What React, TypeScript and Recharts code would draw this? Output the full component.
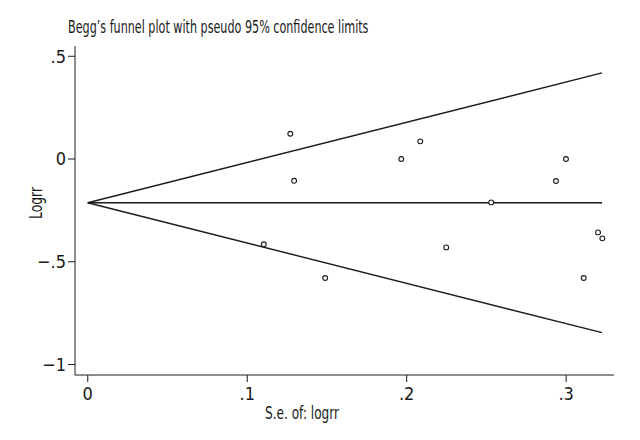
import React from "react";
import {
  ComposedChart,
  XAxis,
  YAxis,
  Line,
  Scatter,
} from "recharts";

// standard errors and log risk ratios
const seValues = [0.127, 0.2085, 0.1966, 0.1294, 0.1104, 0.1489, 0.2999, 0.2936, 0.253, 0.32, 0.3227, 0.2248, 0.311];
const logrrValues = [0.123, 0.086, 0.0, -0.106, -0.415, -0.579, 0.0, -0.107, -0.211, -0.357, -0.386, -0.43, -0.579];

// funnel lines: start (se = 0) and end (max se)
const lineSe = [0, 0.3225];
const upperLimit = [-0.213, 0.419];
const centerLine = [-0.213, -0.213];
const lowerLimit = [-0.213, -0.845];

const xTicks = [0, 0.1, 0.2, 0.3];
const yTicks = [-1, -0.5, 0, 0.5];

const points = seValues.map((se, i) => ({ se, logrr: logrrValues[i] }));
const mkLine = (vals: number[]) => lineSe.map((se, i) => ({ se, logrr: vals[i] }));

const FONT = "'Liberation Sans Narrow', 'DejaVu Sans Condensed', 'Roboto', sans-serif";
const INK = "#1a1a1a";

const fmt = (v: number) => {
  if (v === 0) return "0";
  const s = Math.abs(v).toString().replace(/^0/, "");
  return v < 0 ? "\u2212" + s : s;
};

const Ring = (props: any) => {
  const { cx, cy } = props;
  return <circle cx={cx} cy={cy} r={2.4} fill="#fff" stroke={INK} strokeWidth={1.1} />;
};

const App = () => {
  return (
    <div style={{ position: "absolute", left: 0, top: 0, width: 640, height: 440, background: "#fff" }}>
      <div
        style={{
          position: "absolute",
          left: 68,
          top: 16,
          fontFamily: FONT,
          fontSize: 18,
          color: INK,
          whiteSpace: "nowrap",
          transform: "scaleX(0.69)",
          transformOrigin: "left top",
        }}
      >
        Begg’s funnel plot with pseudo 95% confidence limits
      </div>
      <ComposedChart
        width={640}
        height={440}
        margin={{ top: 46, right: 26, bottom: 25, left: 25 }}
      >
        <XAxis
          dataKey="se"
          type="number"
          domain={[-0.008, 0.33]}
          ticks={xTicks}
          allowDataOverflow
          tickFormatter={fmt}
          height={40}
          tickSize={7}
          tickMargin={5}
          stroke={INK}
          tick={{ fill: INK, fontFamily: FONT, fontSize: 18 }}
          label={{
            content: () => (
              <text
                x={265}
                y={419}
                textLength={74}
                lengthAdjust="spacingAndGlyphs"
                fontFamily={FONT}
                fontSize={18}
                fill={INK}
              >
                S.e. of: logrr
              </text>
            ),
          }}
        />
        <YAxis
          dataKey="logrr"
          type="number"
          domain={[-1.051, 0.55]}
          ticks={yTicks}
          allowDataOverflow
          tickFormatter={fmt}
          width={50}
          tickSize={7}
          stroke={INK}
          tick={{ fill: INK, fontFamily: FONT, fontSize: 18 }}
          label={{
            content: () => (
              <text
                x={35}
                y={203}
                transform="rotate(-90 35 203)"
                textAnchor="middle"
                dominantBaseline="central"
                textLength={32}
                lengthAdjust="spacingAndGlyphs"
                fontFamily={FONT}
                fontSize={18}
                fill={INK}
              >
                Logrr
              </text>
            ),
          }}
        />
        <Line data={mkLine(upperLimit)} dataKey="logrr" type="linear" stroke={INK} strokeWidth={1.4} dot={false} isAnimationActive={false} />
        <Line data={mkLine(centerLine)} dataKey="logrr" type="linear" stroke={INK} strokeWidth={1.4} dot={false} isAnimationActive={false} />
        <Line data={mkLine(lowerLimit)} dataKey="logrr" type="linear" stroke={INK} strokeWidth={1.4} dot={false} isAnimationActive={false} />
        <Scatter data={points} dataKey="logrr" shape={<Ring />} isAnimationActive={false} />
      </ComposedChart>
    </div>
  );
};

export default App;
